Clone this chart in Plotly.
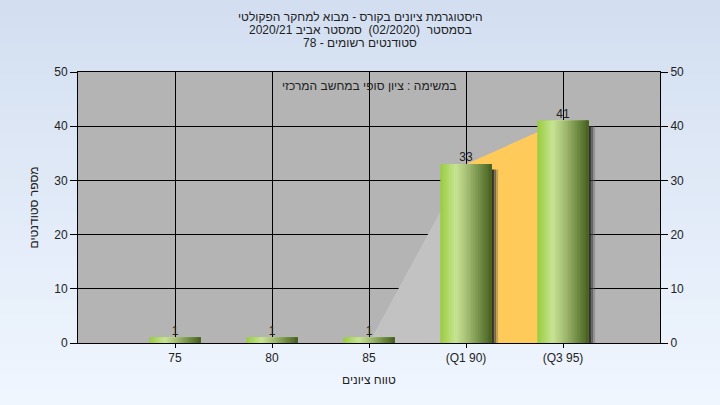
import plotly.graph_objects as go

# ---- data ----
categories = ["75", "80", "85", "(Q1 90)", "(Q3 95)"]
counts = [1, 1, 1, 33, 41]
area_values = [0, 0, 0, 33, 41]
area_segment_colors = ["#b4b4b4", "#b4b4b4", "#c2c2c2", "#fecb5a"]

title_lines = [
    "היסטוגרמת ציונים בקורס - מבוא למחקר הפקולטי",
    "בסמסטר  (02/2020)  סמסטר אביב 2020/21",
    "סטודנטים רשומים - 78",
]
series_name = "במשימה : ציון סופי במחשב המרכזי"
x_title = "טווח ציונים"
y_title = "מספר סטודנטים"

FONT = "Liberation Sans, Arial, sans-serif"

W, H = 720, 405
ML, MR, MT, MB = 78, 60, 72, 62
plot_h = H - MT - MB
plot_w = W - ML - MR

fig = go.Figure()

# ---- background area segments (main axis, drawn beneath bars) ----
for i in range(len(categories) - 1):
    if area_values[i] == 0 and area_values[i + 1] == 0:
        continue
    fig.add_trace(go.Scatter(
        x=[categories[i], categories[i + 1], categories[i + 1], categories[i]],
        y=[area_values[i], area_values[i + 1], 0, 0],
        fill="toself", fillcolor=area_segment_colors[i],
        mode="lines", line=dict(width=0), hoverinfo="skip", showlegend=False,
    ))

# ---- bars with simulated gradient (overlay axis y2, drawn above) ----
BAR_W = 0.53
N = 30


def lerp(c1, c2, t):
    return tuple(round(a + (b - a) * t) for a, b in zip(c1, c2))


stops = [
    (0.0, (152, 204, 62)),
    (0.30, (200, 228, 148)),
    (0.55, (160, 184, 112)),
    (0.80, (108, 136, 64)),
    (1.0, (72, 96, 32)),
]


def grad(t):
    for (t0, c0), (t1, c1) in zip(stops[:-1], stops[1:]):
        if t <= t1:
            return "rgb(%d,%d,%d)" % lerp(c0, c1, (t - t0) / (t1 - t0))
    return "rgb(%d,%d,%d)" % stops[-1][1]


shadow_cols = ["rgba(35,35,35,0.9)", "rgba(55,55,55,0.6)", "rgba(85,85,85,0.35)"]
sw = 0.022
for k, col in enumerate(shadow_cols):
    fig.add_trace(go.Bar(
        x=categories, y=[max(v - 1, 0) for v in counts], yaxis="y2",
        offset=BAR_W / 2 - 0.01 + k * sw, width=sw + 0.01,
        marker=dict(color=col, line=dict(width=0)),
        hoverinfo="skip", showlegend=False,
    ))

step = BAR_W / N
for i in range(N):
    t = (i + 0.5) / N
    fig.add_trace(go.Bar(
        x=categories, y=counts, yaxis="y2",
        offset=-BAR_W / 2 + i * step, width=BAR_W - i * step,
        marker=dict(color=grad(t), line=dict(width=0)),
        hoverinfo="skip", showlegend=False,
    ))

# value labels
fig.add_trace(go.Scatter(
    x=categories, y=counts, yaxis="y2", mode="text", text=[str(v) for v in counts],
    textposition="top center", textfont=dict(family=FONT, size=12, color="#222"),
    hoverinfo="skip", showlegend=False,
))

# ---- paper gradient via shapes ----
top_c = (211, 223, 241)
bot_c = (239, 246, 254)
bands = 27
shapes = []
for b in range(bands):
    py0 = b * H / bands
    py1 = (b + 1) * H / bands + 1
    c = lerp(top_c, bot_c, b / (bands - 1))
    shapes.append(dict(
        type="rect", xref="paper", yref="paper", layer="below",
        x0=-ML / plot_w - 0.01, x1=1 + MR / plot_w + 0.01,
        y0=(H - MB - py1) / plot_h, y1=(H - MB - py0) / plot_h,
        fillcolor="rgb(%d,%d,%d)" % c, line=dict(width=0),
    ))
shapes.append(dict(type="rect", xref="paper", yref="paper", layer="below",
                   x0=0, x1=1, y0=0, y1=1, fillcolor="#b4b4b4", line=dict(width=0)))

axis_font = dict(family=FONT, size=12, color="#222")
txt_font = dict(family=FONT, size=12, color="#222")


def py_to_paper(py):
    return (H - MB - py) / plot_h


annotations = []
for k, line in enumerate(title_lines):
    annotations.append(dict(text=line, xref="paper", yref="paper",
                            x=(W / 2 - ML) / plot_w, y=py_to_paper(17 + 13 * k),
                            xanchor="center", yanchor="middle", showarrow=False,
                            font=txt_font))
annotations += [
    dict(text=series_name, xref="paper", yref="paper", x=0.5, y=py_to_paper(86),
         xanchor="center", yanchor="middle", showarrow=False, font=txt_font),
    dict(text=x_title, xref="paper", yref="paper", x=0.5, y=py_to_paper(380),
         xanchor="center", yanchor="middle", showarrow=False, font=txt_font),
    dict(text=y_title, xref="paper", yref="paper", x=-45 / plot_w, y=0.5,
         xanchor="center", yanchor="middle", showarrow=False, textangle=-90,
         font=txt_font),
]

fig.update_layout(
    width=W, height=H,
    margin=dict(l=ML, r=MR, t=MT, b=MB),
    paper_bgcolor="#e2ebf7", plot_bgcolor="#b4b4b4",
    barmode="overlay",
    showlegend=False,
    shapes=shapes,
    xaxis=dict(type="category", categoryorder="array", categoryarray=categories,
               range=[-1, 5], showgrid=True, gridcolor="black", gridwidth=1,
               showline=True, linecolor="black", linewidth=1, mirror=True,
               ticks="outside", ticklen=4, tickcolor="black",
               tickfont=axis_font, zeroline=False),
    yaxis=dict(range=[0, 50], dtick=10, showgrid=True, gridcolor="black", gridwidth=1,
               showline=True, linecolor="black", linewidth=1, mirror=True,
               ticks="outside", ticklen=7, tickcolor="black",
               tickfont=axis_font, zeroline=False),
    yaxis2=dict(range=[0, 50], dtick=10, overlaying="y", side="right", showgrid=False,
                ticks="outside", ticklen=7, tickcolor="black", showline=False,
                tickfont=axis_font, zeroline=False),
    annotations=annotations,
)

fig.write_html("out.html", config={"displayModeBar": False},
               post_script="document.body.style.margin='0px';")
